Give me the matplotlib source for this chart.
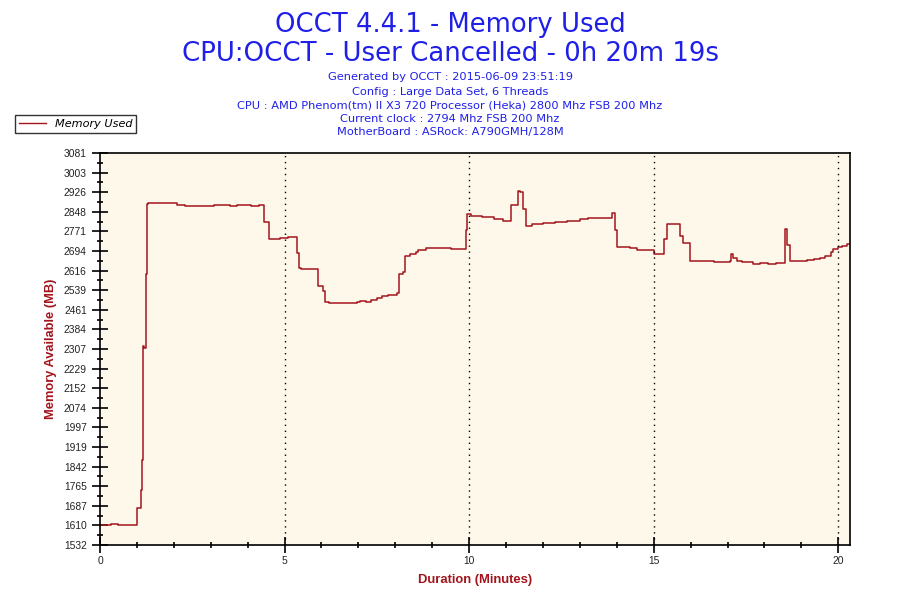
import numpy as np
import matplotlib
matplotlib.use("Agg")
import matplotlib.pyplot as plt
from matplotlib.ticker import FixedLocator, MultipleLocator

title1 = "OCCT 4.4.1 - Memory Used"
title2 = "CPU:OCCT - User Cancelled - 0h 20m 19s"
info_lines = [
    "Generated by OCCT : 2015-06-09 23:51:19",
    "Config : Large Data Set, 6 Threads",
    "CPU : AMD Phenom(tm) II X3 720 Processor (Heka) 2800 Mhz FSB 200 Mhz",
    "Current clock : 2794 Mhz FSB 200 Mhz",
    "MotherBoard : ASRock: A790GMH/128M",
]
series_name = "Memory Used"
xlabel = "Duration (Minutes)"
ylabel = "Memory Available (MB)"

ytick_labels = ["1532", "1610", "1687", "1765", "1842", "1919", "1997", "2074",
                "2152", "2229", "2307", "2384", "2461", "2539", "2616", "2694",
                "2771", "2848", "2926", "3003", "3081"]
xticks = [0, 5, 10, 15, 20]
y_min, y_max = 1532, 3081
x_max = 20.317

times = [0.00, 0.30, 0.50, 0.99, 1.10, 1.13, 1.17, 1.20, 1.25, 1.27, 1.30, 1.45,
         2.08, 2.30, 2.57, 3.08, 3.52, 3.70, 4.10, 4.30, 4.43, 4.57, 4.88, 5.10,
         5.33, 5.40, 5.45, 5.91, 6.05, 6.09, 6.20, 6.95, 7.05, 7.20, 7.35, 7.50,
         7.63, 7.81, 8.04, 8.11, 8.20, 8.26, 8.40, 8.55, 8.62, 8.83, 9.35, 9.50,
         9.92, 9.95, 10.05, 10.34, 10.66, 10.93, 11.13, 11.31, 11.38, 11.45, 11.53,
         11.70, 12.01, 12.33, 12.65, 13.00, 13.23, 13.86, 13.94, 14.00, 14.37,
         14.55, 15.00, 15.27, 15.36, 15.72, 15.78, 15.99, 16.62, 17.07, 17.10,
         17.16, 17.25, 17.40, 17.70, 17.89, 18.10, 18.30, 18.56, 18.60, 18.68,
         19.15, 19.35, 19.50, 19.65, 19.80, 19.87, 20.00, 20.10, 20.23, 20.317]
values = [1613, 1616, 1613, 1677, 1749, 1867, 2320, 2310, 2604, 2880, 2885, 2883,
          2876, 2873, 2871, 2876, 2873, 2876, 2873, 2876, 2809, 2741, 2745, 2750,
          2686, 2628, 2624, 2557, 2534, 2491, 2488, 2491, 2497, 2494, 2501, 2508,
          2515, 2520, 2527, 2603, 2610, 2675, 2681, 2688, 2696, 2705, 2707, 2702,
          2776, 2839, 2833, 2829, 2820, 2813, 2876, 2931, 2925, 2859, 2793,
          2800, 2806, 2810, 2813, 2820, 2826, 2843, 2777, 2708, 2704,
          2696, 2682, 2741, 2800, 2754, 2727, 2655, 2652, 2655, 2682,
          2668, 2655, 2652, 2641, 2645, 2641, 2645, 2780, 2718, 2655,
          2658, 2662, 2668, 2674, 2688, 2701, 2708, 2714, 2720, 2722]

blue = "#1f1fe8"
red = "#a3141c"
bg = "#fdf8ea"
sans = ["Liberation Sans", "DejaVu Sans"]

fig = plt.figure(figsize=(9, 6), dpi=100)
ax = fig.add_axes([100/900, 1-545/600, 750/900, 392/600])
ax.set_facecolor(bg)
ax.plot(times, values, drawstyle="steps-post", color=red, lw=1.1, label=series_name)
ax.set_xlim(0, x_max)
ax.set_ylim(y_min, y_max)

yt = np.linspace(y_min, y_max, len(ytick_labels))
ax.yaxis.set_major_locator(FixedLocator(yt))
ax.set_yticklabels(ytick_labels)
ax.yaxis.set_minor_locator(FixedLocator((yt[:-1] + yt[1:]) / 2))
ax.set_xticks(xticks)
ax.set_xticklabels([str(x) for x in xticks])
ax.xaxis.set_minor_locator(MultipleLocator(1))

ax.tick_params(axis="both", which="major", direction="inout", length=11, width=1.2,
               labelsize=7.4, labelcolor="#222222")
ax.tick_params(axis="both", which="minor", direction="inout", length=4.5, width=1.2)
ax.tick_params(axis="x", which="major", pad=2.5)
ax.tick_params(axis="y", which="major", pad=4)
for lbl in ax.get_xticklabels() + ax.get_yticklabels():
    lbl.set_family(sans)
for x in xticks[1:]:
    ax.axvline(x, color="black", lw=1, ls=(0, (1, 3.3)))
for s in ax.spines.values():
    s.set_linewidth(1.2)

fig.text(475/900, 1-580/600, xlabel, color=red, fontsize=9.4, fontweight="bold",
         family=sans, ha="center", va="center")
fig.text(51/900, 1-349/600, ylabel, color=red, fontsize=9.3, fontweight="bold",
         family=sans, ha="center", va="center", rotation=90)

fig.text(0.5, 1-32.3/600, title1, ha="center", va="baseline", color=blue, fontsize=18.6)
fig.text(0.5, 1-61/600, title2, ha="center", va="baseline", color=blue, fontsize=18.7)
baselines = [80.5, 95.0, 108.5, 122.5, 135.5]
for b, line in zip(baselines, info_lines):
    fig.text(0.5, 1-b/600, line, ha="center", va="baseline", color=blue,
             fontsize=8.2)

leg = fig.legend(loc="upper left", bbox_to_anchor=(15/900, 1-115/600), frameon=True,
                 fancybox=False, edgecolor="black", fontsize=8.1, handlelength=2.4,
                 borderpad=0.35, borderaxespad=0, handletextpad=0.8)
leg.get_frame().set_linewidth(1)
for line in leg.get_lines():
    line.set_linewidth(1)
for t in leg.get_texts():
    t.set_fontstyle("italic")

fig.savefig("out.png", dpi=100)
